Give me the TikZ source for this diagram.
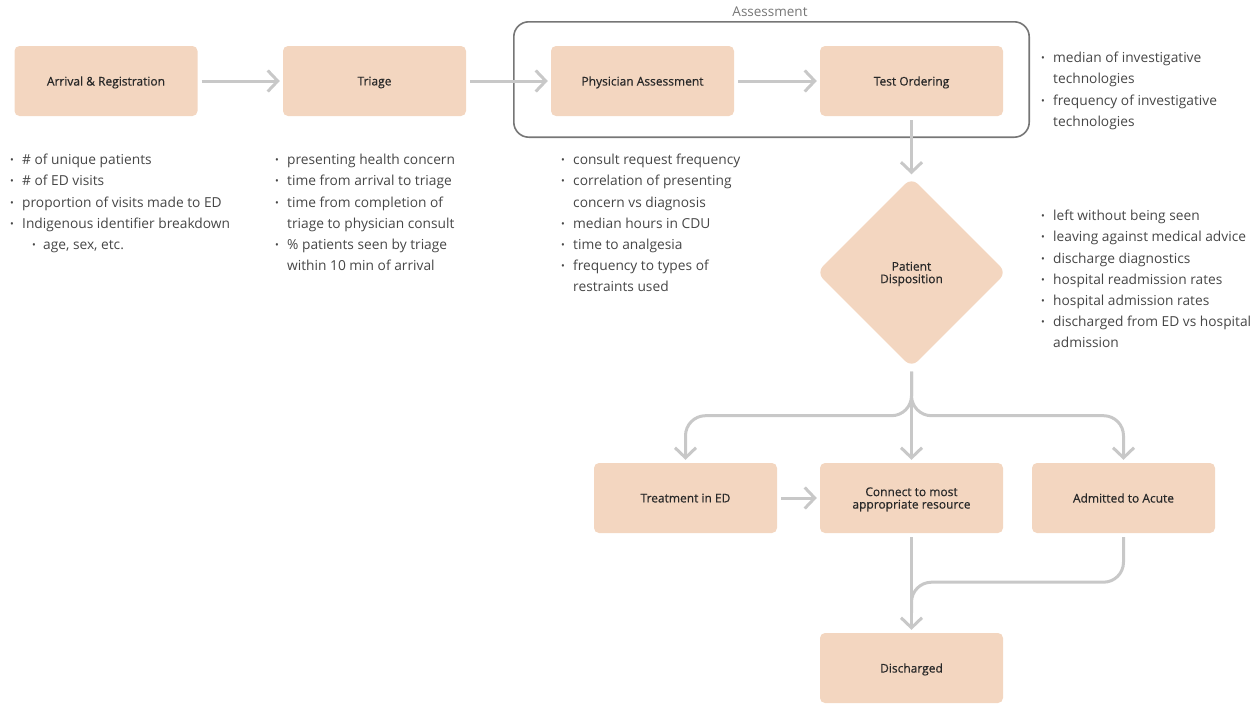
\documentclass[tikz,border=0pt]{standalone}
\usepackage{fontspec}
\setmainfont{Open Sans}
\newfontfamily\stagefont{Open Sans}[FakeBold=0.5]
\usepackage{tikz}
\usetikzlibrary{shapes.geometric,arrows.meta,positioning,calc}
\usepackage{xcolor}
\definecolor{stagefill}{RGB}{243,214,192}
\definecolor{stagetext}{RGB}{40,40,40}
\definecolor{flowgray}{RGB}{200,200,200}
\definecolor{groupgray}{RGB}{118,118,118}
\definecolor{listtext}{RGB}{70,70,70}
\newcommand{\bul}{\makebox[12pt][l]{\fontsize{10}{10}\selectfont\raisebox{1pt}{•}}}
\newcommand{\subbul}{\hspace*{22pt}\makebox[11pt][l]{\fontsize{10}{10}\selectfont\raisebox{1pt}{•}}}
\newcommand{\cont}{\hspace*{12pt}}
\tikzset{
    stage/.style={rectangle, rounded corners=5pt, fill=stagefill, text=stagetext, minimum width=183pt, minimum height=70pt, text depth=0pt, font=\stagefont\fontsize{12}{12.5}\selectfont, align=center},
    decision/.style={diamond, rounded corners=9pt, fill=stagefill, text=stagetext, minimum width=190pt, minimum height=190pt, inner sep=0pt, text depth=0pt, font=\stagefont\fontsize{12}{12.5}\selectfont, align=center},
    flow/.style={line width=3pt, flowgray, -{Straight Barb[length=10pt,width=21pt]}, shorten <=4pt, shorten >=3pt},
    merge/.style={line width=3pt, flowgray, rounded corners=20pt},
    metric/.style={anchor=north west, inner sep=0pt, align=left, text=listtext, font=\fontsize{13.75}{21.2}\selectfont},
    group/.style={draw=groupgray, line width=1.6pt, rounded corners=15pt},
    grouplabel/.style={text=groupgray, font=\fontsize{13.5}{15}\selectfont},
}

\begin{document}
\begin{tikzpicture}[x=1pt, y=1pt]
    \useasboundingbox (0,0) rectangle (1259,-704);

    % Top row
    \node[stage] (arrival) at (106,-81) {Arrival \& Registration};
    \node[stage] (triage) at (374.5,-81) {Triage};
    \node[stage] (phys) at (642.5,-81) {Physician Assessment};
    \node[stage] (test) at (911.5,-81) {Test Ordering};

    \draw[group] ($(phys.north west)+(-37,24)$) rectangle ($(test.south east)+(26,-21)$);
    \node[grouplabel] (asslabel) at (770,-11.5) {Assessment};

    \draw[flow] (arrival) -- (triage);
    \draw[flow] (triage) -- (phys);
    \draw[flow] (phys) -- (test);

    % Disposition
    \node[decision] (dispo) at (911.5,-272.5) {Patient\\Disposition};
    \draw[flow] (test) -- (dispo);

    % Outcomes
    \node[stage] (treat) at (685.5,-498) {Treatment in ED};
    \node[stage] (conn) at (911.5,-498) {Connect to most\\appropriate resource};
    \node[stage] (adm) at (1123.5,-498) {Admitted to Acute};
    \node[stage] (disch) at (911.5,-668) {Discharged};

    \draw[flow, rounded corners=20pt] (dispo.south) -- ++(0,-48) -| (treat.north);
    \draw[flow, rounded corners=20pt] (dispo.south) -- ++(0,-48) -| (adm.north);
    \draw[flow] (dispo) -- (conn);
    \draw[flow] (treat) -- (conn);
    \draw[flow] (conn) -- (disch);
    \draw[merge, shorten <=4pt] (adm.south) -- ++(0,-49) -| ($(disch.north)+(0,20)$);

    % Metrics
    \node[metric] (arrlist) at (10,-154) {\bul\# of unique patients\\
        \bul\# of ED visits\\
        \bul proportion of visits made to ED\\
        \bul Indigenous identifier breakdown\\
        \subbul age, sex, etc.};
    \node[metric] (trilist) at (275,-154) {\bul presenting health concern\\
        \bul time from arrival to triage\\
        \bul time from completion of\\
        \cont triage to physician consult\\
        \bul\% patients seen by triage\\
        \cont within 10 min of arrival};
    \node[metric] (physlist) at (561,-154) {\bul consult request frequency\\
        \bul correlation of presenting\\
        \cont concern vs diagnosis\\
        \bul median hours in CDU\\
        \bul time to analgesia\\
        \bul frequency to types of\\
        \cont restraints used};
    \node[metric] (testlist) at (1041,-52) {\bul median of investigative\\
        \cont technologies\\
        \bul frequency of investigative\\
        \cont technologies};
    \node[metric] (dispolist) at (1041,-210) {\bul left without being seen\\
        \bul leaving against medical advice\\
        \bul discharge diagnostics\\
        \bul hospital readmission rates\\
        \bul hospital admission rates\\
        \bul discharged from ED vs hospital\\
        \cont admission};
\end{tikzpicture}
\end{document}
